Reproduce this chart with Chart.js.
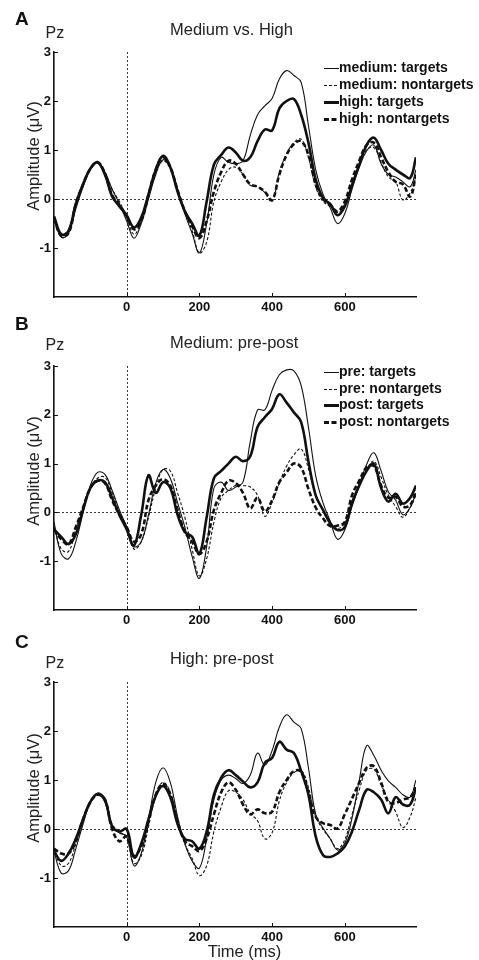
<!DOCTYPE html>
<html>
<head>
<meta charset="utf-8">
<title>Pz ERP: Medium vs. High, pre-post</title>
<script src="https://cdn.jsdelivr.net/npm/chart.js@4.4.1/dist/chart.umd.min.js"></script>
<style>
  html, body { margin: 0; padding: 0; background: #fff; }
  #page { position: relative; width: 479px; height: 960px; overflow: hidden;
          font-family: "Liberation Sans", Arial, sans-serif; color: #222; }
  #page canvas { position: absolute; left: 0; }
  .t { position: absolute; line-height: 1; white-space: nowrap; }
  .letter { font-size: 19px; font-weight: bold; color: #111; }
  .pz { font-size: 16px; }
  .title { font-size: 16.5px; }
  .ylab { font-size: 16.5px; transform: translate(-50%, -50%) rotate(-90deg); }
  .leg { font-size: 14px; font-weight: bold; color: #111; }
</style>
</head>
<body>
<div id="page">
  <canvas id="chartA" width="479" height="313" style="top:0px"></canvas>
  <canvas id="chartB" width="479" height="317" style="top:313px"></canvas>
  <canvas id="chartC" width="479" height="330" style="top:630px"></canvas>

  <div class="t letter" style="left:15px;top:9px">A</div>
  <div class="t pz" style="left:45.5px;top:24.8px">Pz</div>
  <div class="t title" style="left:170px;top:21px">Medium vs. High</div>
  <div class="t ylab" style="left:32.5px;top:156px">Amplitude (μV)</div>

  <div class="t letter" style="left:15px;top:314px">B</div>
  <div class="t pz" style="left:45.5px;top:337.2px">Pz</div>
  <div class="t title" style="left:170px;top:334px">Medium: pre-post</div>
  <div class="t ylab" style="left:32.5px;top:470.5px">Amplitude (μV)</div>

  <div class="t letter" style="left:15px;top:632px">C</div>
  <div class="t pz" style="left:45.5px;top:654.8px">Pz</div>
  <div class="t title" style="left:170px;top:650px">High: pre-post</div>
  <div class="t ylab" style="left:32.5px;top:787.5px">Amplitude (μV)</div>
  <div class="t title" style="left:244.5px;top:942.7px;transform:translateX(-50%)">Time (ms)</div>
</div>

<script>
// time axis (ms), shared by every trace
const times = [-200, -180, -160, -140, -120, -100, -80, -60, -40, -20,
  0, 20, 40, 60, 80, 100, 120, 140, 160, 180,
  200, 220, 240, 260, 280, 300, 320, 340, 360, 380,
  400, 420, 440, 460, 480, 500, 520, 540, 560, 580,
  600, 620, 640, 660, 680, 700, 720, 740, 760, 780, 796];

const xTicks = [0, 200, 400, 600];
const yTicks = [-1, 0, 1, 2, 3];

// Panel A: medium vs. high (µV)
const mediumTargets = [-0.4, -0.78, -0.7, -0.2, 0.25, 0.6, 0.74, 0.55, 0.2, -0.1,
  -0.45, -0.8, -0.5, 0.0, 0.5, 0.8, 0.65, 0.2, -0.3, -0.7,
  -1.1, -0.5, 0.5, 0.85, 0.75, 0.72, 0.78, 1.3, 1.72, 1.9,
  2.05, 2.45, 2.62, 2.52, 2.38, 1.5, 0.6, 0.1, -0.18, -0.5,
  -0.3, 0.2, 0.65, 0.98, 1.1, 0.72, 0.5, 0.45, 0.35, 0.25, 0.6];
const mediumNontargets = [-0.4, -0.78, -0.68, -0.15, 0.28, 0.62, 0.74, 0.55, 0.2, -0.05,
  -0.38, -0.72, -0.45, 0.05, 0.55, 0.78, 0.62, 0.2, -0.25, -0.65,
  -1.1, -0.88, -0.05, 0.35, 0.6, 0.65, 0.5, 0.28, 0.25, 0.13,
  -0.05, 0.55, 0.92, 1.15, 1.22, 0.85, 0.25, -0.05, -0.15, -0.28,
  -0.1, 0.3, 0.7, 1.0, 1.05, 0.75, 0.45, 0.35, -0.02, 0.12, 0.45];
const highTargets = [-0.35, -0.72, -0.65, -0.1, 0.3, 0.62, 0.75, 0.5, 0.05, -0.15,
  -0.33, -0.58, -0.38, 0.1, 0.6, 0.88, 0.65, 0.15, -0.25, -0.5,
  -0.75, -0.05, 0.7, 0.9, 1.05, 0.95, 0.78, 0.85, 1.18, 1.42,
  1.4, 1.85, 2.0, 2.04, 1.72, 1.15, 0.4, 0.02, -0.1, -0.33,
  -0.15, 0.28, 0.7, 1.1, 1.25, 1.0, 0.72, 0.6, 0.5, 0.43, 0.85];
const highNontargets = [-0.4, -0.75, -0.7, -0.1, 0.3, 0.62, 0.75, 0.52, 0.08, -0.12,
  -0.35, -0.62, -0.45, 0.08, 0.6, 0.85, 0.65, 0.18, -0.25, -0.55,
  -0.8, -0.45, 0.15, 0.55, 0.78, 0.72, 0.5, 0.3, 0.25, 0.15,
  -0.02, 0.5, 0.9, 1.12, 1.18, 0.9, 0.3, 0.0, -0.12, -0.25,
  -0.05, 0.4, 0.78, 1.1, 1.15, 0.85, 0.55, 0.35, 0.3, 0.05, 0.5];

// Panel B: medium, pre vs. post
const medPreTargets = [-0.2, -0.85, -0.95, -0.6, 0.0, 0.55, 0.82, 0.78, 0.45, 0.05,
  -0.3, -0.7, -0.6, -0.05, 0.6, 0.88, 0.7, 0.2, -0.3, -0.9,
  -1.35, -0.7, 0.5, 0.62, 0.45, 0.52, 0.62, 1.45, 2.1, 2.1,
  2.5, 2.82, 2.92, 2.9, 2.6, 1.75, 0.75, 0.2, -0.18, -0.55,
  -0.36, 0.12, 0.55, 0.98, 1.22, 0.85, 0.42, 0.25, -0.05, 0.1, 0.4];
const medPreNontargets = [-0.3, -0.75, -0.8, -0.35, 0.1, 0.5, 0.7, 0.72, 0.4, 0.0,
  -0.3, -0.75, -0.6, -0.1, 0.5, 0.88, 0.85, 0.4, -0.1, -0.75,
  -1.3, -0.95, -0.2, 0.3, 0.45, 0.55, 0.55, 0.52, 0.35, -0.08,
  0.2, 0.6, 0.95, 1.18, 1.3, 0.9, 0.35, 0.05, -0.22, -0.33,
  -0.22, 0.2, 0.6, 0.88, 1.05, 0.72, 0.35, 0.12, -0.1, 0.1, 0.35];
const medPostTargets = [-0.35, -0.5, -0.65, -0.45, 0.05, 0.5, 0.65, 0.62, 0.3, -0.05,
  -0.35, -0.68, -0.05, 0.76, 0.4, 0.62, 0.5, -0.05, -0.4, -0.5,
  -0.85, -0.1, 0.7, 0.85, 1.0, 1.14, 1.05, 1.15, 1.75, 1.95,
  2.12, 2.42, 2.25, 2.05, 1.85, 1.05, 0.35, 0.05, -0.22, -0.36,
  -0.3, 0.2, 0.55, 0.85, 1.0, 0.5, 0.22, 0.38, 0.18, 0.3, 0.55];
const medPostNontargets = [-0.35, -0.55, -0.65, -0.3, 0.1, 0.5, 0.65, 0.6, 0.25, -0.05,
  -0.3, -0.6, -0.45, 0.25, 0.55, 0.68, 0.55, 0.05, -0.4, -0.6,
  -0.85, -0.6, 0.05, 0.4, 0.65, 0.6, 0.4, 0.08, 0.3, 0.02,
  0.25, 0.62, 0.82, 1.0, 0.92, 0.48, 0.1, -0.12, -0.28, -0.27,
  -0.2, 0.35, 0.65, 0.92, 0.95, 0.55, 0.3, 0.32, 0.12, 0.15, 0.45];

// Panel C: high, pre vs. post
const highPreTargets = [-0.45, -0.9, -0.85, -0.4, 0.1, 0.55, 0.7, 0.55, 0.05, -0.08,
  -0.15, -0.75, -0.5, 0.2, 0.95, 1.25, 0.95, 0.25, -0.3, -0.65,
  -0.8, -0.2, 0.6, 1.0, 1.1, 1.03, 0.93, 1.1, 1.55, 1.3,
  1.6, 2.08, 2.33, 2.18, 2.05, 1.25, 0.3, 0.02, -0.2, -0.43,
  -0.29, 0.22, 1.0, 1.7, 1.5, 1.2, 0.98, 0.85, 0.7, 0.65, 1.0];
const highPreNontargets = [-0.4, -0.75, -0.7, -0.3, 0.2, 0.58, 0.7, 0.6, 0.1, -0.05,
  -0.2, -0.7, -0.55, 0.05, 0.7, 0.95, 0.75, 0.2, -0.3, -0.6,
  -0.95, -0.75, -0.05, 0.45, 0.78, 0.75, 0.6, 0.32, 0.17, -0.2,
  -0.08, 0.57, 0.95, 1.15, 1.2, 0.85, 0.25, 0.0, -0.2, -0.4,
  -0.22, 0.3, 0.8, 1.2, 1.22, 0.9, 0.6, 0.35, 0.03, 0.25, 0.65];
const highPostTargets = [-0.45, -0.65, -0.5, -0.2, 0.2, 0.55, 0.72, 0.6, 0.05, -0.05,
  0.0, -0.58, -0.3, 0.2, 0.68, 0.88, 0.65, 0.1, -0.2, -0.25,
  -0.4, -0.05, 0.7, 1.05, 1.2, 1.1, 0.97, 0.85, 0.95, 1.35,
  1.45, 1.78, 1.62, 1.55, 1.18, 0.7, -0.15, -0.53, -0.57, -0.5,
  -0.36, -0.05, 0.4, 0.8, 0.75, 0.6, 0.32, 0.65, 0.5, 0.5, 0.85];
const highPostNontargets = [-0.4, -0.5, -0.5, -0.25, 0.2, 0.55, 0.7, 0.6, 0.0, -0.25,
  -0.15, -0.55, -0.35, 0.15, 0.7, 0.92, 0.7, 0.15, -0.25, -0.35,
  -0.45, -0.2, 0.3, 0.75, 0.95, 0.8, 0.5, 0.3, 0.4, 0.32,
  0.35, 0.75, 1.0, 1.18, 1.17, 0.75, 0.25, 0.12, 0.08, 0.01,
  0.3, 0.62, 0.95, 1.25, 1.28, 0.95, 0.55, 0.53, 0.6, 0.65, 0.85];

const legendA = ['medium: targets', 'medium: nontargets', 'high: targets', 'high: nontargets'];
const legendB = ['pre: targets', 'pre: nontargets', 'post: targets', 'post: nontargets'];

(function() {
  'use strict';

  const FONT = '"Liberation Sans", Arial, sans-serif';
  const INK = '#111';

  // line styles: thin solid, thin dashed, thick solid, thick dashed
  const styles = [
    { width: 1.1, dash: [] },
    { width: 1.1, dash: [3, 2] },
    { width: 2.6, dash: [] },
    { width: 2.6, dash: [5, 2.5] }
  ];

  // dashed zero line, dashed onset line and small inward ticks
  const refLines = {
    id: 'refLines',
    beforeDatasetsDraw(chart) {
      const { ctx, chartArea, scales } = chart;
      const { left, right, top, bottom } = chartArea;
      ctx.save();
      ctx.strokeStyle = '#222';
      ctx.lineWidth = 0.9;
      ctx.setLineDash([2, 2]);
      const y0 = Math.round(scales.y.getPixelForValue(0)) + 0.5;
      ctx.beginPath(); ctx.moveTo(left, y0); ctx.lineTo(right, y0); ctx.stroke();
      const x0 = Math.round(scales.x.getPixelForValue(0)) + 0.5;
      ctx.beginPath(); ctx.moveTo(x0, top); ctx.lineTo(x0, bottom); ctx.stroke();
      ctx.setLineDash([]);
      ctx.strokeStyle = INK;
      ctx.lineWidth = 1;
      yTicks.forEach(v => {
        const py = Math.round(scales.y.getPixelForValue(v)) + 0.5;
        ctx.beginPath(); ctx.moveTo(left, py); ctx.lineTo(left + 4, py); ctx.stroke();
      });
      xTicks.forEach(v => {
        const px = Math.round(scales.x.getPixelForValue(v)) + 0.5;
        ctx.beginPath(); ctx.moveTo(px, bottom); ctx.lineTo(px, bottom - 4); ctx.stroke();
      });
      ctx.restore();
    }
  };

  function makePanel(id, series, labels, plotTop, xAxisH) {
    const canvas = document.getElementById(id);
    const datasets = series.map((vals, i) => ({
      label: labels[i],
      data: times.map((t, k) => ({ x: t, y: vals[k] })),
      borderColor: INK,
      borderWidth: styles[i].width,
      borderDash: styles[i].dash,
      pointRadius: 0,
      tension: 0.4,
      fill: false,
      order: i < 2 ? 1 : 0
    }));

    const tickFont = { family: FONT, size: 13, weight: 'bold' };

    new Chart(canvas.getContext('2d'), {
      type: 'line',
      data: { datasets },
      options: {
        responsive: false,
        animation: false,
        layout: { padding: { top: plotTop, right: 63, left: 0, bottom: 0 } },
        plugins: { legend: { display: false }, tooltip: { enabled: false } },
        scales: {
          x: {
            type: 'linear',
            min: -200,
            max: 796,
            afterBuildTicks: s => { s.ticks = xTicks.map(v => ({ value: v })); },
            afterFit: s => { s.height = xAxisH; },
            grid: { display: false, drawTicks: false },
            border: { display: true, color: INK, width: 1.6 },
            ticks: { font: tickFont, color: INK, padding: 3, maxRotation: 0, autoSkip: false }
          },
          y: {
            min: -2,
            max: 3,
            afterBuildTicks: s => { s.ticks = yTicks.map(v => ({ value: v })); },
            afterFit: s => { s.width = 54; },
            grid: { display: false, drawTicks: false },
            border: { display: true, color: INK, width: 1.6 },
            ticks: { font: tickFont, color: INK, padding: 3, autoSkip: false }
          }
        }
      },
      plugins: [refLines]
    });
  }

  // legend inside the upper right of a panel
  function makeLegend(labels, firstBaseline) {
    const page = document.getElementById('page');
    labels.forEach((text, i) => {
      const base = firstBaseline + i * 16.8;
      const svg = document.createElementNS('http://www.w3.org/2000/svg', 'svg');
      svg.setAttribute('width', '15');
      svg.setAttribute('height', '6');
      svg.style.position = 'absolute';
      svg.style.left = '324px';
      svg.style.top = Math.round(base - 7) + 'px';
      const ln = document.createElementNS('http://www.w3.org/2000/svg', 'line');
      ln.setAttribute('x1', '0'); ln.setAttribute('x2', '15');
      ln.setAttribute('y1', '3.5'); ln.setAttribute('y2', '3.5');
      ln.setAttribute('stroke', INK);
      ln.setAttribute('stroke-width', styles[i].width < 2 ? 1 : 3);
      if (styles[i].dash.length) ln.setAttribute('stroke-dasharray', styles[i].dash.join(' '));
      svg.appendChild(ln);
      page.appendChild(svg);

      const div = document.createElement('div');
      div.className = 't leg';
      div.style.left = '339px';
      div.style.top = (base - 11.85) + 'px';
      div.textContent = text;
      page.appendChild(div);
    });
  }

  makePanel('chartA', [mediumTargets, mediumNontargets, highTargets, highNontargets], legendA, 52, 16);
  makePanel('chartB', [medPreTargets, medPreNontargets, medPostTargets, medPostNontargets], legendB, 53, 20);
  makePanel('chartC', [highPreTargets, highPreNontargets, highPostTargets, highPostNontargets], legendB, 52, 33);

  makeLegend(legendA, 72.3);
  makeLegend(legendB, 375.7);
})();
</script>
</body>
</html>
